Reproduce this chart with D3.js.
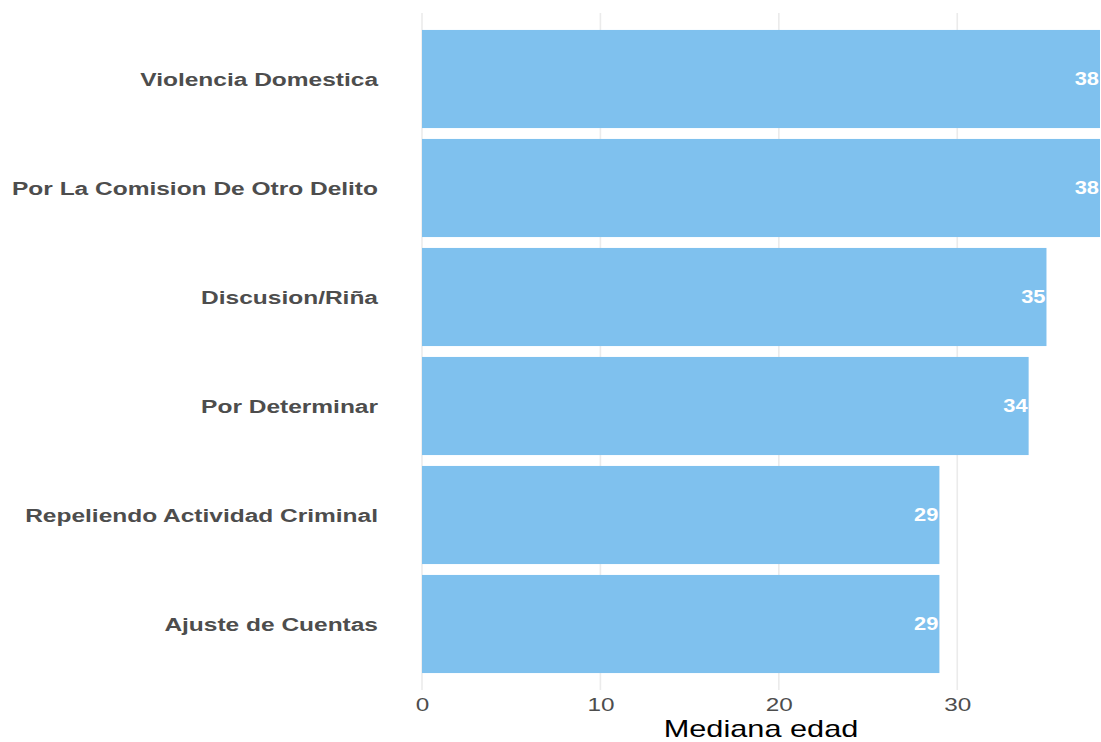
<!DOCTYPE html>
<html><head><meta charset="utf-8">
<script src="https://cdn.jsdelivr.net/npm/d3@7"></script>
<style>body{margin:0;background:#fff}</style>
</head><body>
<svg id="c" width="1101" height="742"></svg>
<script>
const categories = ["Violencia Domestica","Por La Comision De Otro Delito","Discusion/Riña","Por Determinar","Repeliendo Actividad Criminal","Ajuste de Cuentas"];
const values = [38,38,35,34,29,29];
const ticks = [0,10,20,30];

const FONT = "Liberation Sans, Arial, sans-serif";
const SX = 1.29;
const svg = d3.select("#c");
const x = d3.scaleLinear().domain([0,38]).range([422,1100]);
const y = d3.scaleBand().domain(categories).range([24.5,678.5]).paddingInner(0.1).paddingOuter(0.05);

svg.append("g").selectAll("line").data(ticks).join("line")
  .attr("x1",d=>x(d)).attr("x2",d=>x(d)).attr("y1",13).attr("y2",690)
  .attr("stroke","#ebebeb").attr("stroke-width",1.6);

svg.append("g").selectAll("rect").data(categories).join("rect")
  .attr("x",x(0)).attr("y",d=>y(d)).attr("width",(d,i)=>x(values[i])-x(0)).attr("height",y.bandwidth())
  .attr("fill","#7fc1ee");

svg.append("g").selectAll("text").data(categories).join("text")
  .attr("transform",(d,i)=>`translate(${x(values[i])-1},${y(d)+y.bandwidth()/2}) scale(1.25,1)`)
  .attr("dy","0.36em")
  .attr("text-anchor","end").attr("fill","#fff").attr("font-weight","bold")
  .attr("font-family",FONT).attr("font-size",17.5)
  .text((d,i)=>values[i]);

svg.append("g").selectAll("text").data(categories).join("text")
  .attr("transform",d=>`translate(378,${y(d)+y.bandwidth()/2}) scale(${SX},1)`)
  .attr("dy","0.36em")
  .attr("text-anchor","end").attr("fill","#4d4d4d").attr("font-weight","bold")
  .attr("font-family",FONT).attr("font-size",19)
  .text(d=>d);

const ax = d3.axisBottom(x).tickValues(ticks).tickSize(0).tickPadding(0);
const g = svg.append("g").attr("transform","translate(0,698)").call(ax);
g.select(".domain").remove();
g.selectAll(".tick text").attr("fill","#4d4d4d").attr("font-size",19)
  .attr("font-family",FONT).attr("dy","0.71em").attr("y",0).attr("x",0)
  .attr("transform",`scale(1.28,1)`);

svg.append("text").attr("transform",`translate(${(x(0)+1100)/2},737) scale(1.28,1)`).attr("text-anchor","middle")
  .attr("font-family",FONT).attr("font-size",24).attr("fill","#000")
  .text("Mediana edad");
</script>
</body></html>
